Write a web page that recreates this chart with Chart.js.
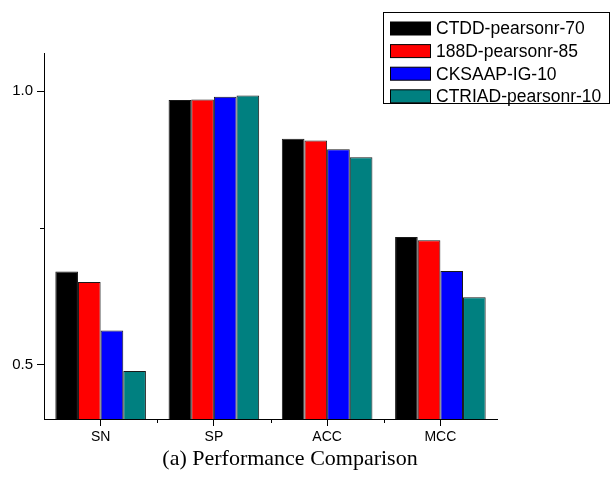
<!DOCTYPE html>
<html>
<head>
<meta charset="utf-8">
<script src="https://cdn.jsdelivr.net/npm/chart.js@4/dist/chart.umd.min.js"></script>
<style>
  html, body { margin: 0; padding: 0; background: #fff; }
</style>
</head>
<body>
<canvas id="chart" width="611" height="482"></canvas>
<script>
// values
const categories = ['SN', 'SP', 'ACC', 'MCC']
const seriesNames = ['CTDD-pearsonr-70', '188D-pearsonr-85', 'CKSAAP-IG-10', 'CTRIAD-pearsonr-10']
const ctdd = [0.670, 0.984, 0.913, 0.733]
const d188 = [0.651, 0.985, 0.910, 0.727]
const cksaap = [0.562, 0.990, 0.894, 0.671]
const ctriad = [0.488, 0.992, 0.879, 0.623]
const majorTicks = [0.5, 1.0]
const minorTicks = [0.75]
const caption = '(a) Performance Comparison'

const colors = ['#000000', '#ff0000', '#0000ff', '#008080']
const sans = '"Liberation Sans", Arial, sans-serif'
const serif = '"Liberation Serif", "Times New Roman", serif'

const datasets = [ctdd, d188, cksaap, ctriad].map((values, i) => ({
    label: seriesNames[i],
    data: values,
    backgroundColor: colors[i],
    borderColor: 'rgba(0,0,0,0.9)',
    borderWidth: 1,
    borderSkipped: 'bottom',
    categoryPercentage: 0.8,
    barPercentage: 1.0,
}))

// minor ticks, boxed legend and the caption under the axis
const extras = {
    id: 'extras',
    afterDraw(chart) {
        const ctx = chart.ctx
        const area = chart.chartArea
        const x = chart.scales.x
        const y = chart.scales.y
        ctx.save()
        ctx.strokeStyle = '#000'
        ctx.lineWidth = 1

        ctx.beginPath()
        for (let i = 0; i < categories.length - 1; i++) {
            const px = Math.round((x.getPixelForTick(i) + x.getPixelForTick(i + 1)) / 2) + 0.5
            ctx.moveTo(px, area.bottom)
            ctx.lineTo(px, area.bottom + 4)
        }
        minorTicks.forEach(v => {
            const py = Math.round(y.getPixelForValue(v)) + 0.5
            ctx.moveTo(area.left, py)
            ctx.lineTo(area.left - 4, py)
        })
        ctx.stroke()

        // legend box
        const rowH = 22.6
        ctx.strokeRect(383.5, 12.5, 226, 91)
        ctx.font = '17.5px ' + sans
        ctx.textBaseline = 'middle'
        ctx.textAlign = 'left'
        chart.data.datasets.forEach((ds, i) => {
            const cy = 28.5 + i * rowH
            ctx.fillStyle = ds.backgroundColor
            ctx.fillRect(390, cy - 6.5, 41, 13)
            ctx.strokeRect(390.5, cy - 6.5, 40, 13)
            ctx.fillStyle = '#000'
            ctx.fillText(ds.label, 436, cy + 1)
        })

        ctx.font = '22px ' + serif
        ctx.textAlign = 'center'
        ctx.fillText(caption, 290, 459)
        ctx.restore()
    },
}

new Chart(document.getElementById('chart'), {
    type: 'bar',
    data: { labels: categories, datasets },
    options: {
        responsive: false,
        animation: false,
        layout: { padding: { top: 53, right: 114, left: 0, bottom: 0 } },
        plugins: {
            legend: { display: false },
            tooltip: { enabled: false },
        },
        scales: {
            x: {
                grid: { drawOnChartArea: false, offset: false, tickLength: 7, color: '#000' },
                border: { color: '#000', width: 1 },
                ticks: { color: '#000', font: { family: sans, size: 14 }, padding: 3 },
                afterFit: s => { s.height = 63 },
            },
            y: {
                min: 0.4,
                max: 1.07,
                afterBuildTicks: s => { s.ticks = majorTicks.map(v => ({ value: v })) },
                grid: { drawOnChartArea: false, tickLength: 7, color: '#000' },
                border: { color: '#000', width: 1 },
                ticks: {
                    color: '#000',
                    font: { family: sans, size: 15 },
                    padding: 4,
                    callback: v => Number(v).toFixed(1),
                },
                afterFit: s => { s.width = 44 },
            },
        },
    },
    plugins: [extras],
})
</script>
</body>
</html>
